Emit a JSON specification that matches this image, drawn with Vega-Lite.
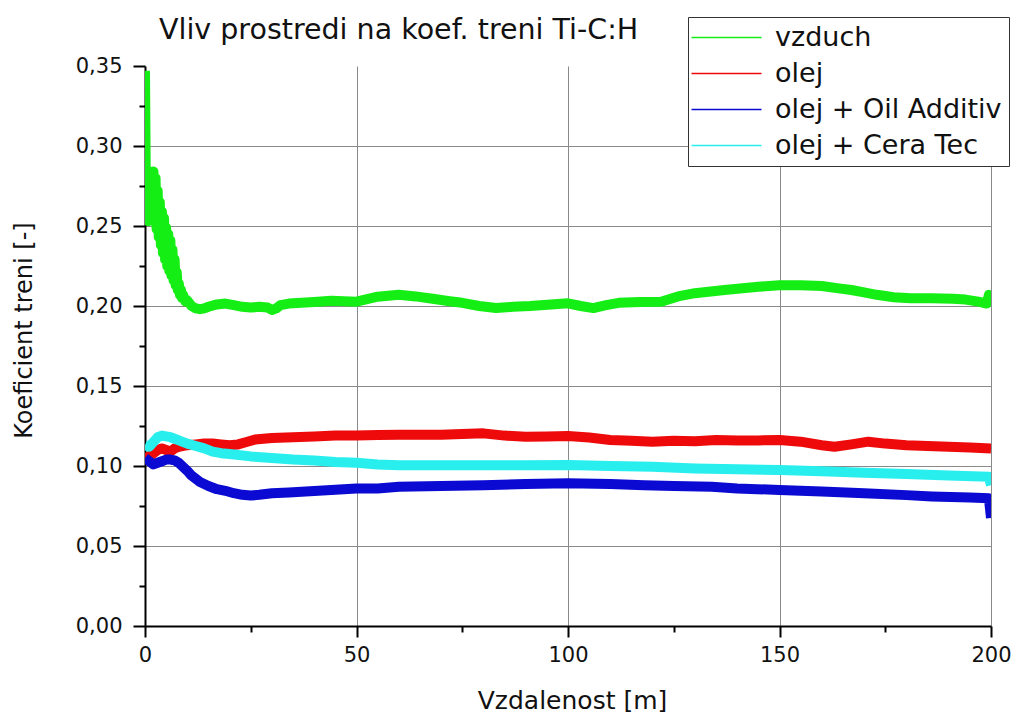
{
  "$schema": "https://vega.github.io/schema/vega-lite/v6.json",
  "width": 846,
  "height": 560,
  "autosize": {"type": "none"},
  "padding": {"left": 145, "top": 66, "right": 25, "bottom": 87},
  "background": "white",
  "title": {
    "text": "Vliv prostredi na koef. treni Ti-C:H",
    "anchor": "start",
    "frame": "group",
    "dx": 14,
    "offset": -51,
    "baseline": "alphabetic",
    "font": "DejaVu Sans",
    "fontSize": 28.5,
    "fontWeight": "normal",
    "color": "#111111"
  },
  "config": {
    "view": {"stroke": null},
    "font": "DejaVu Sans"
  },
  "data": {
    "values": [
      {"x": 0, "y": 0.347, "s": "vzduch"},
      {"x": 0.25, "y": 0.256, "s": "vzduch"},
      {"x": 0.5, "y": 0.27, "s": "vzduch"},
      {"x": 0.75, "y": 0.253, "s": "vzduch"},
      {"x": 1.0, "y": 0.277, "s": "vzduch"},
      {"x": 1.25, "y": 0.255, "s": "vzduch"},
      {"x": 1.5, "y": 0.282, "s": "vzduch"},
      {"x": 1.75, "y": 0.255, "s": "vzduch"},
      {"x": 2.0, "y": 0.284, "s": "vzduch"},
      {"x": 2.25, "y": 0.253, "s": "vzduch"},
      {"x": 2.5, "y": 0.28, "s": "vzduch"},
      {"x": 2.75, "y": 0.248, "s": "vzduch"},
      {"x": 3.0, "y": 0.272, "s": "vzduch"},
      {"x": 3.25, "y": 0.243, "s": "vzduch"},
      {"x": 3.5, "y": 0.265, "s": "vzduch"},
      {"x": 3.75, "y": 0.238, "s": "vzduch"},
      {"x": 4.0, "y": 0.259, "s": "vzduch"},
      {"x": 4.25, "y": 0.233, "s": "vzduch"},
      {"x": 4.5, "y": 0.255, "s": "vzduch"},
      {"x": 4.75, "y": 0.229, "s": "vzduch"},
      {"x": 5.0, "y": 0.249, "s": "vzduch"},
      {"x": 5.25, "y": 0.225, "s": "vzduch"},
      {"x": 5.5, "y": 0.245, "s": "vzduch"},
      {"x": 5.75, "y": 0.222, "s": "vzduch"},
      {"x": 6.0, "y": 0.241, "s": "vzduch"},
      {"x": 6.25, "y": 0.219, "s": "vzduch"},
      {"x": 6.5, "y": 0.235, "s": "vzduch"},
      {"x": 6.75, "y": 0.216, "s": "vzduch"},
      {"x": 7.0, "y": 0.229, "s": "vzduch"},
      {"x": 7.25, "y": 0.213, "s": "vzduch"},
      {"x": 7.5, "y": 0.221, "s": "vzduch"},
      {"x": 7.75, "y": 0.21, "s": "vzduch"},
      {"x": 8.0, "y": 0.214, "s": "vzduch"},
      {"x": 8.25, "y": 0.207, "s": "vzduch"},
      {"x": 8.5, "y": 0.21, "s": "vzduch"},
      {"x": 8.75, "y": 0.205, "s": "vzduch"},
      {"x": 9.0, "y": 0.207, "s": "vzduch"},
      {"x": 9.5, "y": 0.203, "s": "vzduch"},
      {"x": 10, "y": 0.2035, "s": "vzduch"},
      {"x": 11, "y": 0.2, "s": "vzduch"},
      {"x": 12, "y": 0.1985, "s": "vzduch"},
      {"x": 13, "y": 0.198, "s": "vzduch"},
      {"x": 14, "y": 0.1985, "s": "vzduch"},
      {"x": 15, "y": 0.1995, "s": "vzduch"},
      {"x": 17, "y": 0.201, "s": "vzduch"},
      {"x": 19, "y": 0.2015, "s": "vzduch"},
      {"x": 21, "y": 0.2005, "s": "vzduch"},
      {"x": 23, "y": 0.1995, "s": "vzduch"},
      {"x": 25, "y": 0.199, "s": "vzduch"},
      {"x": 27, "y": 0.1995, "s": "vzduch"},
      {"x": 29, "y": 0.199, "s": "vzduch"},
      {"x": 30, "y": 0.1975, "s": "vzduch"},
      {"x": 31, "y": 0.1985, "s": "vzduch"},
      {"x": 32, "y": 0.2005, "s": "vzduch"},
      {"x": 34, "y": 0.2015, "s": "vzduch"},
      {"x": 37, "y": 0.202, "s": "vzduch"},
      {"x": 40, "y": 0.2025, "s": "vzduch"},
      {"x": 44, "y": 0.2033, "s": "vzduch"},
      {"x": 50, "y": 0.2027, "s": "vzduch"},
      {"x": 55, "y": 0.2058, "s": "vzduch"},
      {"x": 60, "y": 0.207, "s": "vzduch"},
      {"x": 64, "y": 0.206, "s": "vzduch"},
      {"x": 68, "y": 0.2045, "s": "vzduch"},
      {"x": 72, "y": 0.203, "s": "vzduch"},
      {"x": 75, "y": 0.202, "s": "vzduch"},
      {"x": 79, "y": 0.2, "s": "vzduch"},
      {"x": 83, "y": 0.1987, "s": "vzduch"},
      {"x": 87, "y": 0.1995, "s": "vzduch"},
      {"x": 91, "y": 0.2, "s": "vzduch"},
      {"x": 96, "y": 0.201, "s": "vzduch"},
      {"x": 100, "y": 0.2017, "s": "vzduch"},
      {"x": 103, "y": 0.2, "s": "vzduch"},
      {"x": 106, "y": 0.1987, "s": "vzduch"},
      {"x": 109, "y": 0.2005, "s": "vzduch"},
      {"x": 112, "y": 0.202, "s": "vzduch"},
      {"x": 117, "y": 0.2025, "s": "vzduch"},
      {"x": 122, "y": 0.2027, "s": "vzduch"},
      {"x": 126, "y": 0.206, "s": "vzduch"},
      {"x": 130, "y": 0.208, "s": "vzduch"},
      {"x": 137, "y": 0.21, "s": "vzduch"},
      {"x": 145, "y": 0.212, "s": "vzduch"},
      {"x": 150, "y": 0.213, "s": "vzduch"},
      {"x": 155, "y": 0.213, "s": "vzduch"},
      {"x": 160, "y": 0.2125, "s": "vzduch"},
      {"x": 164, "y": 0.211, "s": "vzduch"},
      {"x": 167, "y": 0.21, "s": "vzduch"},
      {"x": 170, "y": 0.2085, "s": "vzduch"},
      {"x": 173, "y": 0.207, "s": "vzduch"},
      {"x": 177, "y": 0.2055, "s": "vzduch"},
      {"x": 181, "y": 0.2048, "s": "vzduch"},
      {"x": 186, "y": 0.2048, "s": "vzduch"},
      {"x": 191, "y": 0.2045, "s": "vzduch"},
      {"x": 194, "y": 0.204, "s": "vzduch"},
      {"x": 197, "y": 0.2027, "s": "vzduch"},
      {"x": 199, "y": 0.2015, "s": "vzduch"},
      {"x": 199.5, "y": 0.207, "s": "vzduch"},
      {"x": 200, "y": 0.2, "s": "vzduch"},

      {"x": 0, "y": 0.105, "s": "olej"},
      {"x": 1, "y": 0.106, "s": "olej"},
      {"x": 2, "y": 0.108, "s": "olej"},
      {"x": 3, "y": 0.11, "s": "olej"},
      {"x": 4, "y": 0.111, "s": "olej"},
      {"x": 5, "y": 0.11, "s": "olej"},
      {"x": 6, "y": 0.109, "s": "olej"},
      {"x": 7, "y": 0.111, "s": "olej"},
      {"x": 8, "y": 0.112, "s": "olej"},
      {"x": 10, "y": 0.113, "s": "olej"},
      {"x": 12, "y": 0.1135, "s": "olej"},
      {"x": 14, "y": 0.114, "s": "olej"},
      {"x": 16, "y": 0.114, "s": "olej"},
      {"x": 18, "y": 0.1135, "s": "olej"},
      {"x": 20, "y": 0.113, "s": "olej"},
      {"x": 22, "y": 0.1135, "s": "olej"},
      {"x": 24, "y": 0.115, "s": "olej"},
      {"x": 26, "y": 0.1165, "s": "olej"},
      {"x": 28, "y": 0.117, "s": "olej"},
      {"x": 30, "y": 0.1175, "s": "olej"},
      {"x": 35, "y": 0.118, "s": "olej"},
      {"x": 40, "y": 0.1185, "s": "olej"},
      {"x": 45, "y": 0.119, "s": "olej"},
      {"x": 50, "y": 0.119, "s": "olej"},
      {"x": 55, "y": 0.1194, "s": "olej"},
      {"x": 60, "y": 0.1195, "s": "olej"},
      {"x": 65, "y": 0.1195, "s": "olej"},
      {"x": 70, "y": 0.1195, "s": "olej"},
      {"x": 75, "y": 0.12, "s": "olej"},
      {"x": 80, "y": 0.1204, "s": "olej"},
      {"x": 85, "y": 0.119, "s": "olej"},
      {"x": 90, "y": 0.1183, "s": "olej"},
      {"x": 95, "y": 0.1185, "s": "olej"},
      {"x": 100, "y": 0.1188, "s": "olej"},
      {"x": 105, "y": 0.1178, "s": "olej"},
      {"x": 110, "y": 0.1163, "s": "olej"},
      {"x": 115, "y": 0.1158, "s": "olej"},
      {"x": 120, "y": 0.1152, "s": "olej"},
      {"x": 125, "y": 0.1158, "s": "olej"},
      {"x": 130, "y": 0.1155, "s": "olej"},
      {"x": 135, "y": 0.1163, "s": "olej"},
      {"x": 140, "y": 0.116, "s": "olej"},
      {"x": 145, "y": 0.116, "s": "olej"},
      {"x": 150, "y": 0.1163, "s": "olej"},
      {"x": 155, "y": 0.1152, "s": "olej"},
      {"x": 160, "y": 0.113, "s": "olej"},
      {"x": 163, "y": 0.112, "s": "olej"},
      {"x": 167, "y": 0.1135, "s": "olej"},
      {"x": 171, "y": 0.1152, "s": "olej"},
      {"x": 175, "y": 0.114, "s": "olej"},
      {"x": 180, "y": 0.113, "s": "olej"},
      {"x": 185, "y": 0.1125, "s": "olej"},
      {"x": 190, "y": 0.112, "s": "olej"},
      {"x": 195, "y": 0.1115, "s": "olej"},
      {"x": 200, "y": 0.111, "s": "olej"},

      {"x": 0, "y": 0.105, "s": "olej + Oil Additiv"},
      {"x": 1, "y": 0.103, "s": "olej + Oil Additiv"},
      {"x": 2, "y": 0.101, "s": "olej + Oil Additiv"},
      {"x": 3, "y": 0.102, "s": "olej + Oil Additiv"},
      {"x": 4, "y": 0.103, "s": "olej + Oil Additiv"},
      {"x": 5, "y": 0.104, "s": "olej + Oil Additiv"},
      {"x": 6, "y": 0.104, "s": "olej + Oil Additiv"},
      {"x": 7, "y": 0.1035, "s": "olej + Oil Additiv"},
      {"x": 8, "y": 0.102, "s": "olej + Oil Additiv"},
      {"x": 9, "y": 0.0995, "s": "olej + Oil Additiv"},
      {"x": 10, "y": 0.097, "s": "olej + Oil Additiv"},
      {"x": 11, "y": 0.094, "s": "olej + Oil Additiv"},
      {"x": 12, "y": 0.092, "s": "olej + Oil Additiv"},
      {"x": 13, "y": 0.09, "s": "olej + Oil Additiv"},
      {"x": 15, "y": 0.0875, "s": "olej + Oil Additiv"},
      {"x": 17, "y": 0.0855, "s": "olej + Oil Additiv"},
      {"x": 19, "y": 0.0845, "s": "olej + Oil Additiv"},
      {"x": 21, "y": 0.083, "s": "olej + Oil Additiv"},
      {"x": 23, "y": 0.082, "s": "olej + Oil Additiv"},
      {"x": 25, "y": 0.0815, "s": "olej + Oil Additiv"},
      {"x": 27, "y": 0.082, "s": "olej + Oil Additiv"},
      {"x": 30, "y": 0.083, "s": "olej + Oil Additiv"},
      {"x": 34, "y": 0.0835, "s": "olej + Oil Additiv"},
      {"x": 38, "y": 0.084, "s": "olej + Oil Additiv"},
      {"x": 44, "y": 0.085, "s": "olej + Oil Additiv"},
      {"x": 50, "y": 0.086, "s": "olej + Oil Additiv"},
      {"x": 55, "y": 0.086, "s": "olej + Oil Additiv"},
      {"x": 60, "y": 0.087, "s": "olej + Oil Additiv"},
      {"x": 70, "y": 0.0875, "s": "olej + Oil Additiv"},
      {"x": 80, "y": 0.088, "s": "olej + Oil Additiv"},
      {"x": 90, "y": 0.0888, "s": "olej + Oil Additiv"},
      {"x": 100, "y": 0.0892, "s": "olej + Oil Additiv"},
      {"x": 110, "y": 0.0888, "s": "olej + Oil Additiv"},
      {"x": 118, "y": 0.088, "s": "olej + Oil Additiv"},
      {"x": 125, "y": 0.0875, "s": "olej + Oil Additiv"},
      {"x": 134, "y": 0.087, "s": "olej + Oil Additiv"},
      {"x": 140, "y": 0.086, "s": "olej + Oil Additiv"},
      {"x": 150, "y": 0.085, "s": "olej + Oil Additiv"},
      {"x": 160, "y": 0.084, "s": "olej + Oil Additiv"},
      {"x": 170, "y": 0.083, "s": "olej + Oil Additiv"},
      {"x": 180, "y": 0.0818, "s": "olej + Oil Additiv"},
      {"x": 186, "y": 0.081, "s": "olej + Oil Additiv"},
      {"x": 195, "y": 0.0803, "s": "olej + Oil Additiv"},
      {"x": 199.5, "y": 0.0798, "s": "olej + Oil Additiv"},
      {"x": 200, "y": 0.0675, "s": "olej + Oil Additiv"},

      {"x": 0, "y": 0.113, "s": "olej + Cera Tec"},
      {"x": 1, "y": 0.112, "s": "olej + Cera Tec"},
      {"x": 2, "y": 0.115, "s": "olej + Cera Tec"},
      {"x": 3, "y": 0.118, "s": "olej + Cera Tec"},
      {"x": 4, "y": 0.119, "s": "olej + Cera Tec"},
      {"x": 5, "y": 0.1185, "s": "olej + Cera Tec"},
      {"x": 6, "y": 0.118, "s": "olej + Cera Tec"},
      {"x": 7, "y": 0.117, "s": "olej + Cera Tec"},
      {"x": 8, "y": 0.116, "s": "olej + Cera Tec"},
      {"x": 10, "y": 0.114, "s": "olej + Cera Tec"},
      {"x": 12, "y": 0.1125, "s": "olej + Cera Tec"},
      {"x": 14, "y": 0.111, "s": "olej + Cera Tec"},
      {"x": 16, "y": 0.109, "s": "olej + Cera Tec"},
      {"x": 18, "y": 0.108, "s": "olej + Cera Tec"},
      {"x": 20, "y": 0.1075, "s": "olej + Cera Tec"},
      {"x": 25, "y": 0.106, "s": "olej + Cera Tec"},
      {"x": 30, "y": 0.105, "s": "olej + Cera Tec"},
      {"x": 35, "y": 0.104, "s": "olej + Cera Tec"},
      {"x": 40, "y": 0.1035, "s": "olej + Cera Tec"},
      {"x": 45, "y": 0.1025, "s": "olej + Cera Tec"},
      {"x": 50, "y": 0.102, "s": "olej + Cera Tec"},
      {"x": 55, "y": 0.101, "s": "olej + Cera Tec"},
      {"x": 60, "y": 0.1005, "s": "olej + Cera Tec"},
      {"x": 70, "y": 0.1005, "s": "olej + Cera Tec"},
      {"x": 80, "y": 0.1005, "s": "olej + Cera Tec"},
      {"x": 90, "y": 0.1005, "s": "olej + Cera Tec"},
      {"x": 100, "y": 0.1006, "s": "olej + Cera Tec"},
      {"x": 110, "y": 0.1, "s": "olej + Cera Tec"},
      {"x": 120, "y": 0.0995, "s": "olej + Cera Tec"},
      {"x": 130, "y": 0.0985, "s": "olej + Cera Tec"},
      {"x": 140, "y": 0.098, "s": "olej + Cera Tec"},
      {"x": 150, "y": 0.0975, "s": "olej + Cera Tec"},
      {"x": 160, "y": 0.0967, "s": "olej + Cera Tec"},
      {"x": 170, "y": 0.0958, "s": "olej + Cera Tec"},
      {"x": 180, "y": 0.095, "s": "olej + Cera Tec"},
      {"x": 190, "y": 0.094, "s": "olej + Cera Tec"},
      {"x": 199.5, "y": 0.0933, "s": "olej + Cera Tec"},
      {"x": 200, "y": 0.088, "s": "olej + Cera Tec"}
    ]
  },
  "mark": {"type": "line", "strokeWidth": 10, "clip": true, "strokeJoin": "round"},
  "encoding": {
    "x": {
      "field": "x",
      "type": "quantitative",
      "scale": {"domain": [0, 200], "nice": false, "zero": false},
      "axis": {
        "title": "Vzdalenost [m]",
        "titleFont": "DejaVu Sans",
        "titleFontSize": 25,
        "titleFontWeight": "normal",
        "titleColor": "#111111",
        "titleX": 427,
        "titleY": 82,
        "titleAlign": "center",
        "titleBaseline": "alphabetic",
        "values": [0, 25, 50, 75, 100, 125, 150, 175, 200],
        "labelExpr": "datum.value % 50 == 0 ? datum.value : ''",
        "labelFont": "DejaVu Sans",
        "labelFontSize": 21,
        "labelColor": "#111111",
        "labelPadding": 7,
        "labelFlush": false,
        "labelOverlap": false,
        "domainColor": "#000000",
        "domainWidth": 2,
        "tickColor": "#000000",
        "tickWidth": 2,
        "tickSize": {"condition": {"test": "datum.value % 50 == 0", "value": 11}, "value": 6},
        "grid": true,
        "gridColor": "#8a8a8a",
        "gridWidth": 1,
        "gridOpacity": {"condition": {"test": "datum.value % 50 == 0 && datum.value > 0", "value": 1}, "value": 0}
      }
    },
    "y": {
      "field": "y",
      "type": "quantitative",
      "scale": {"domain": [0, 0.35], "nice": false},
      "axis": {
        "title": "Koeficient treni [-]",
        "titleFont": "DejaVu Sans",
        "titleFontSize": 24,
        "titleFontWeight": "normal",
        "titleColor": "#111111",
        "titleX": -121,
        "titleY": 264,
        "titleAngle": 270,
        "titleAlign": "center",
        "titleBaseline": "middle",
        "values": [0, 0.025, 0.05, 0.075, 0.1, 0.125, 0.15, 0.175, 0.2, 0.225, 0.25, 0.275, 0.3, 0.325, 0.35],
        "labelExpr": "round(datum.value * 1000) % 50 == 0 ? replace(format(datum.value, '.2f'), '.', ',') : ''",
        "labelFont": "DejaVu Sans",
        "labelFontSize": 21,
        "labelColor": "#111111",
        "labelPadding": 11,
        "labelFlush": false,
        "labelOverlap": false,
        "domainColor": "#000000",
        "domainWidth": 2,
        "tickColor": "#000000",
        "tickWidth": 2,
        "tickSize": {"condition": {"test": "round(datum.value * 1000) % 50 == 0", "value": 12}, "value": 6},
        "grid": true,
        "gridColor": "#8a8a8a",
        "gridWidth": 1,
        "gridOpacity": {"condition": {"test": "round(datum.value * 1000) % 50 == 0 && datum.value > 0.001 && datum.value < 0.34", "value": 1}, "value": 0}
      }
    },
    "color": {
      "field": "s",
      "type": "nominal",
      "sort": null,
      "scale": {
        "domain": ["vzduch", "olej", "olej + Oil Additiv", "olej + Cera Tec"],
        "range": ["#14ee14", "#ee0a0a", "#0a0ad2", "#28eeee"]
      },
      "legend": {
        "title": null,
        "orient": "none",
        "legendX": 543,
        "legendY": -49,
        "symbolType": "M-3.4,0L10.6,0",
        "symbolSize": 100,
        "symbolStrokeWidth": 1.5,
        "labelFont": "DejaVu Sans",
        "labelFontSize": 27,
        "labelColor": "#111111",
        "labelOffset": 53,
        "labelLimit": 400,
        "rowPadding": 8,
        "padding": 7,
        "strokeColor": "#333333",
        "fillColor": "white"
      }
    }
  }
}
